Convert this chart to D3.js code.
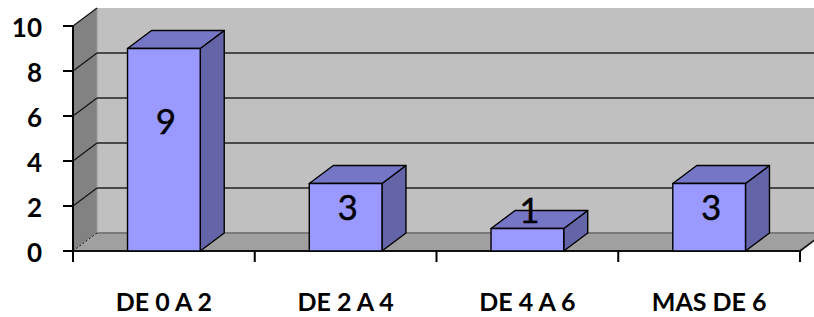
<!DOCTYPE html>
<html><head><meta charset="utf-8">
<script src="https://cdn.jsdelivr.net/npm/d3@7"></script>
<style>html,body{margin:0;padding:0;background:#fff;}svg{display:block;}</style>
</head><body>
<svg id="chart" width="814" height="317"></svg>
<script>
const categories = ["DE 0 A 2", "DE 2 A 4", "DE 4 A 6", "MAS DE 6"];
const values = [9, 3, 1, 3];
const yTicks = [0, 2, 4, 6, 8, 10];

const W = 814, H = 317;
const x0 = 73, x1 = 800, yBottom = 251, yTop = 26;
const dx = 24, dy = -18;
const svg = d3.select("#chart");

const x = d3.scaleBand().domain(categories).range([x0, x1]);
const y = d3.scaleLinear().domain([0, 10]).range([yBottom, yTop]);
const barW = x.bandwidth() * 0.4;

const pts = a => a.map(p => p.join(",")).join(" ");

// walls
svg.append("polygon").attr("points", pts([[x0 + dx, y(10) + dy], [W + 20, y(10) + dy], [W + 20, y(0) + dy], [x0 + dx, y(0) + dy]]))
  .attr("fill", "#c0c0c0");
svg.append("polygon").attr("points", pts([[x0, y(10)], [x0 + dx, y(10) + dy], [x0 + dx, y(0) + dy], [x0, y(0)]]))
  .attr("fill", "#828282");
svg.append("polygon").attr("points", pts([[x0, y(0)], [x0 + dx, y(0) + dy], [x1 + dx, y(0) + dy], [x1, y(0)]]))
  .attr("fill", "#a0a0a0");
svg.append("line").attr("x1", x0 + dx).attr("x2", W + 20).attr("y1", y(0) + dy).attr("y2", y(0) + dy)
  .attr("stroke", "#7a7a7a").attr("stroke-width", 2);
svg.append("line").attr("x1", x0 + dx).attr("x2", x0 + dx).attr("y1", y(10) + dy).attr("y2", y(0) + dy)
  .attr("stroke", "#9a9a9a").attr("stroke-width", 1);

// gridlines
yTicks.filter(t => t > 0).forEach(t => {
  if (t < 10) {
    svg.append("line").attr("x1", x0 + dx).attr("x2", W + 20).attr("y1", y(t) + dy).attr("y2", y(t) + dy)
      .attr("stroke", "#222").attr("stroke-width", 1.6);
  }
  svg.append("line").attr("x1", x0).attr("x2", x0 + dx).attr("y1", y(t)).attr("y2", y(t) + dy)
    .attr("stroke", "#111").attr("stroke-width", 1.2);
});
svg.append("line").attr("x1", x0).attr("x2", x0 + dx).attr("y1", y(0)).attr("y2", y(0) + dy)
  .attr("stroke", "#111").attr("stroke-width", 1).attr("stroke-dasharray", "2,2");

// floor front edge
svg.append("line").attr("x1", x0).attr("x2", x1).attr("y1", y(0)).attr("y2", y(0))
  .attr("stroke", "#111").attr("stroke-width", 2.2);
svg.append("line").attr("x1", x1).attr("x2", x1 + dx).attr("y1", y(0)).attr("y2", y(0) + dy)
  .attr("stroke", "#111").attr("stroke-width", 1.8);

// bars
categories.forEach((c, i) => {
  const v = values[i];
  const bx0 = x(c) + (x.bandwidth() - barW) / 2, bx1 = bx0 + barW;
  const yt = y(v), yb = y(0);
  const g = svg.append("g").attr("stroke", "#000").attr("stroke-width", 1.4).attr("stroke-linejoin", "round");
  g.append("polygon").attr("points", pts([[bx1, yt], [bx1 + dx, yt + dy], [bx1 + dx, yb + dy], [bx1, yb]])).attr("fill", "#6464a8");
  g.append("polygon").attr("points", pts([[bx0, yt], [bx0 + dx, yt + dy], [bx1 + dx, yt + dy], [bx1, yt]])).attr("fill", "#7676c6");
  g.append("rect").attr("x", bx0).attr("y", yt).attr("width", barW).attr("height", yb - yt).attr("fill", "#9999ff");
  const ly = Math.min(y(v * 0.64), y(1.8));
  svg.append("text").attr("x", bx0 + barW / 2 + 2).attr("y", ly).attr("dy", "0.35em")
    .attr("text-anchor", "middle").attr("font-family", "Lato, 'Open Sans', sans-serif")
    .attr("font-size", 35).attr("fill", "#000").attr("stroke", "#000").attr("stroke-width", 0.4).text(v);
});

// y axis
svg.append("line").attr("x1", x0).attr("x2", x0).attr("y1", y(10)).attr("y2", y(0) + 11)
  .attr("stroke", "#000").attr("stroke-width", 2);
yTicks.forEach(t => {
  svg.append("line").attr("x1", x0 - 10).attr("x2", x0).attr("y1", y(t)).attr("y2", y(t))
    .attr("stroke", "#000").attr("stroke-width", 2);
  svg.append("text").attr("x", 42).attr("y", y(t) + 2).attr("dy", "0.35em").attr("text-anchor", "end")
    .attr("font-family", "Lato, sans-serif").attr("font-weight", "bold").attr("font-size", 26).text(t);
});

// x axis ticks and labels
const xTickPos = categories.map(c => x(c)).concat([x1]);
xTickPos.forEach(px => {
  svg.append("line").attr("x1", px).attr("x2", px).attr("y1", y(0)).attr("y2", y(0) + 11)
    .attr("stroke", "#000").attr("stroke-width", 2);
});
categories.forEach(c => {
  svg.append("text").attr("x", x(c) + x.bandwidth() / 2).attr("y", 311).attr("text-anchor", "middle")
    .attr("font-family", "Lato, sans-serif").attr("font-weight", "bold").attr("font-size", 25).text(c);
});
</script>
</body></html>
